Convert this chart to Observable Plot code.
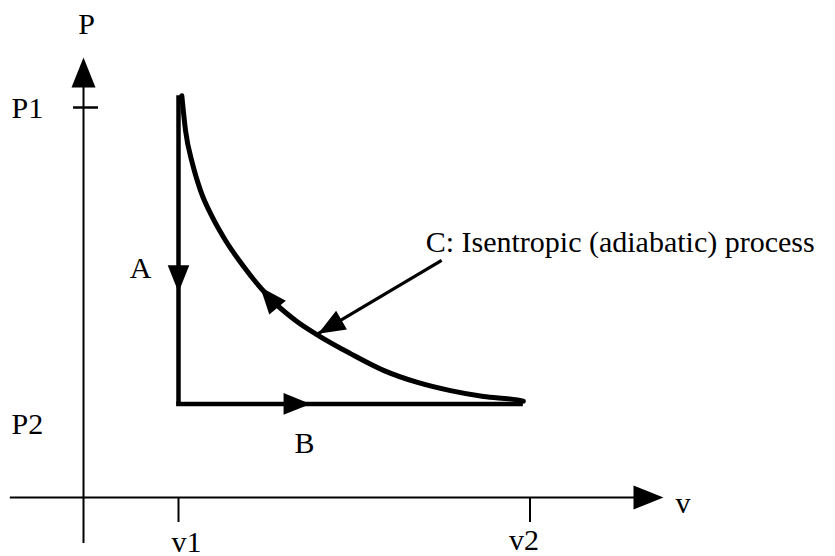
<!DOCTYPE html>
<html>
<head>
<meta charset="utf-8">
<script src="https://cdn.jsdelivr.net/npm/d3@7"></script>
<script src="https://cdn.jsdelivr.net/npm/@observablehq/plot@0.6"></script>
<style>
  html, body { margin: 0; padding: 0; background: #fff; }
</style>
</head>
<body>
<div id="chart"></div>
<script>
// ---- Data ----
// v-axis ticks and labels
const vTicks = [1, 4.7];
const vTickLabels = ["v1", "v2"];
// P-axis tick and labels
const pTicks = [10];
const pTickLabels = ["P1"];
const P1 = 10.3;   // top of process A / start of curve C
const P2 = 2.4;    // level of process B
const v1 = 1;
const vEnd = 4.63; // end of process B / curve C
// Isentropic curve C
const curveV = [1.035, 1.074, 1.147, 1.232, 1.358, 1.495, 1.674, 1.842, 2.021, 2.232, 2.495, 2.81, 3.158, 3.516, 3.863, 4.211, 4.568, 4.63];
const curveP = [10.3, 9.41, 8.56, 7.87, 7.18, 6.59, 5.96, 5.44, 4.97, 4.54, 4.12, 3.69, 3.26, 2.95, 2.74, 2.59, 2.5, 2.47];
// Direction arrowheads on the processes A, B, C
const flowV = [1, 2.39, 1.86];
const flowP = [5.26, 2.4, 5.4];
const flowAngle = [180, 90, -40];
// Annotation pointer for C
const noteFrom = {v: 3.77, p: 6.08};
const noteTo = {v: 2.47, p: 4.2};
const noteText = "C: Isentropic (adiabatic) process";
const processLabels = ["A", "B"];

const curve = curveV.map((v, i) => ({v, p: curveP[i]}));
const flows = flowV.map((v, i) => ({v, p: flowP[i], a: flowAngle[i]}));

const serif = "'Liberation Serif', 'Times New Roman', Times, serif";
const tri = {
  draw(ctx, l) {
    const w = l * 0.4;
    ctx.moveTo(0, -l);
    ctx.lineTo(w, 0);
    ctx.lineTo(-w, 0);
    ctx.closePath();
  }
};

const xMin = -0.77, xTip = 6.105, yMin = -1.18, yTip = 11.28;
const txt = {fontSize: 30, fontFamily: serif, fill: "#000", lineAnchor: "bottom"};

const chart = Plot.plot({
  width: 835,
  height: 556,
  margin: 0,
  x: {domain: [0, 8], range: [83, 843], axis: null},
  y: {domain: [0, 12], range: [497, 29], axis: null},
  style: {background: "#fff", fontFamily: serif, color: "#000"},
  marks: [
    // axes
    Plot.ruleY([0], {x1: xMin, x2: xTip - 0.25, stroke: "#000", strokeWidth: 2}),
    Plot.ruleX([0], {y1: yMin, y2: yTip - 0.6, stroke: "#000", strokeWidth: 2}),
    Plot.vector([{v: xTip, p: 0, a: 90}, {v: 0, p: yTip, a: 0}], {
      x: "v", y: "p", rotate: "a", length: 30, anchor: "end", shape: tri, fill: "#000", stroke: "none"
    }),
    // ticks
    Plot.ruleY(pTicks, {x1: -0.105, x2: 0.158, stroke: "#000", strokeWidth: 2.5}),
    Plot.ruleX(vTicks, {y1: 0, y2: -0.64, stroke: "#000", strokeWidth: 2}),
    // tick labels
    Plot.text(pTicks, {...txt, x: 0, y: d => d, text: (d, i) => pTickLabels[i], textAnchor: "start", dx: -72, dy: 10}),
    Plot.text([P2], {...txt, x: 0, y: d => d, text: ["P2"], textAnchor: "start", dx: -72, dy: 30}),
    Plot.text([vTicks[0]], {...txt, x: d => d, y: 0, text: [vTickLabels[0]], textAnchor: "middle", dx: 8, dy: 54}),
    Plot.text([vTicks[1]], {...txt, x: d => d, y: 0, text: [vTickLabels[1]], textAnchor: "middle", dx: -6, dy: 52}),
    // axis titles
    Plot.text([xTip], {...txt, x: d => d, y: 0, text: ["v"], textAnchor: "start", dx: 12, dy: 15}),
    Plot.text([yTip], {...txt, x: 0, y: d => d, text: ["P"], textAnchor: "middle", dx: 3, dy: -24}),
    // process A (constant volume) and B (constant pressure)
    Plot.ruleX([v1], {y1: P2, y2: P1, stroke: "#000", strokeWidth: 4.5}),
    Plot.ruleY([P2], {x1: v1 - 0.02, x2: vEnd, stroke: "#000", strokeWidth: 4.5}),
    // process C
    Plot.line(curve, {x: "v", y: "p", curve: "monotone-x", stroke: "#000", strokeWidth: 5}),
    // flow arrowheads
    Plot.vector(flows, {x: "v", y: "p", rotate: "a", length: 27, anchor: "end", shape: tri, fill: "#000", stroke: "none"}),
    // process labels
    Plot.text([flows[0]], {...txt, x: "v", y: "p", text: [processLabels[0]], textAnchor: "middle", dx: -38, dy: -14}),
    Plot.text([flows[1]], {...txt, x: "v", y: "p", text: [processLabels[1]], textAnchor: "middle", dx: -6, dy: 49}),
    // annotation
    Plot.link([{a: noteFrom, b: noteTo}], {x1: d => d.a.v, y1: d => d.a.p, x2: d => d.b.v, y2: d => d.b.p, stroke: "#000", strokeWidth: 3.2}),
    Plot.vector([{v: noteTo.v, p: noteTo.p, a: -120}], {x: "v", y: "p", rotate: "a", length: 27, anchor: "end", shape: tri, fill: "#000", stroke: "none"}),
    Plot.text([noteFrom], {...txt, x: "v", y: "p", text: [noteText], textAnchor: "start", dx: -16, dy: -8})
  ]
});
document.getElementById("chart").appendChild(chart);
</script>
</body>
</html>
